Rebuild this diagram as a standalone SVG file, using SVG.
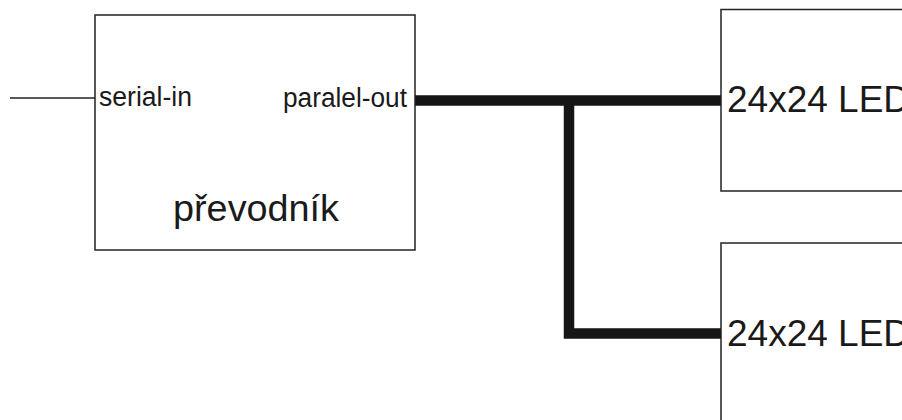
<svg xmlns="http://www.w3.org/2000/svg" width="902" height="420" viewBox="0 0 902 420">
<style>
.box{fill:#fff;stroke:#222;stroke-width:1.5}
.t{font-family:"Liberation Sans",Arial,sans-serif;fill:#1a1a1a}
.thin{stroke:#222;stroke-width:1.5;fill:none}
.bus{stroke:#151515;stroke-width:10.5;fill:none;stroke-linejoin:miter;stroke-linecap:butt}
</style>
<rect width="902" height="420" fill="#fff"/>
<g id="connectors">
<line class="thin" x1="10" y1="98" x2="95" y2="98"/>
<path class="bus" d="M415 100.5 H721"/>
<path class="bus" d="M569 100.5 V333.5 H721"/>
</g>
<g id="prevodnik">
<rect class="box" x="95" y="15" width="320" height="235"/>
<text class="t" x="99" y="106" font-size="27" textLength="93" lengthAdjust="spacingAndGlyphs">serial-in</text>
<text class="t" x="283" y="107" font-size="27" textLength="124" lengthAdjust="spacingAndGlyphs">paralel-out</text>
<text class="t" x="173" y="221" font-size="36" textLength="166" lengthAdjust="spacingAndGlyphs">převodník</text>
</g>
<g id="led1">
<rect class="box" x="721" y="9.5" width="200" height="181.5"/>
<text class="t" x="727" y="112" font-size="37">24x24 LED</text>
</g>
<g id="led2">
<rect class="box" x="721" y="243" width="200" height="200"/>
<text class="t" x="727" y="346" font-size="37">24x24 LED</text>
</g>
</svg>
